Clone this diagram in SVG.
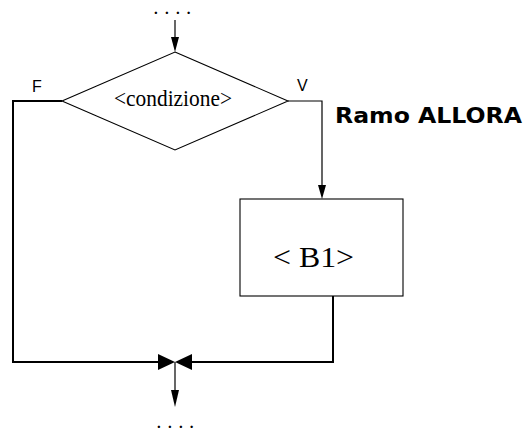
<svg xmlns="http://www.w3.org/2000/svg" width="528" height="432" viewBox="0 0 528 432">
<style>
.ln{fill:none;stroke:#000;stroke-width:1.2}
.thk{fill:none;stroke:#000;stroke-width:2}
.shape{fill:#fff;stroke:#000;stroke-width:1.1}
.ah{fill:#000;stroke:none}
.serif{font-family:"Liberation Serif","Times New Roman",serif;fill:#000}
.dots{font-family:"Liberation Serif","Times New Roman",serif;font-weight:bold;font-size:15px;letter-spacing:7.2px;fill:#000}
.sans{font-family:"Liberation Sans",Arial,sans-serif;fill:#000}
</style>
<rect width="528" height="432" fill="#fff"/>
<g id="connectors">
  <line class="ln" x1="175" y1="20" x2="175" y2="40"/>
  <polygon class="ah" points="171,37 179,37 175,52"/>
  <polyline class="ln" points="288,101 322,101 322,188"/>
  <polygon class="ah" points="318,185 326,185 322,199"/>
  <polyline class="thk" points="62,101 13,101 13,362 160,362"/>
  <polygon class="ah" points="158,354 158,370 175,362"/>
  <polyline class="thk" points="333,296 333,362 190,362"/>
  <polygon class="ah" points="192,354 192,370 175,362"/>
  <line class="ln" x1="175" y1="362" x2="175" y2="393"/>
  <polygon class="ah" points="171,390 179,390 175,407"/>
</g>
<g id="start-dots"><text class="dots" x="154" y="14">....</text></g>
<g id="decision">
  <polygon class="shape" points="175,52 288,101 175,150 62,101"/>
  <text class="serif" x="114" y="106" font-size="23" textLength="118" lengthAdjust="spacingAndGlyphs">&lt;condizione&gt;</text>
</g>
<g id="label-F"><text class="sans" x="32" y="92" font-size="16">F</text></g>
<g id="label-V"><text class="sans" x="297" y="91" font-size="16">V</text></g>
<g id="label-ramo"><text x="335" y="123" font-family="DejaVu Sans, Verdana, sans-serif" font-weight="bold" font-size="22" textLength="187" lengthAdjust="spacingAndGlyphs" fill="#000">Ramo ALLORA</text></g>
<g id="block-B1">
  <rect class="shape" x="240" y="199" width="163" height="97"/>
  <text class="serif" x="273" y="267" font-size="30" textLength="81" lengthAdjust="spacingAndGlyphs">&lt; B1&gt;</text>
</g>
<g id="end-dots"><text class="dots" x="157" y="428">....</text></g>
</svg>
